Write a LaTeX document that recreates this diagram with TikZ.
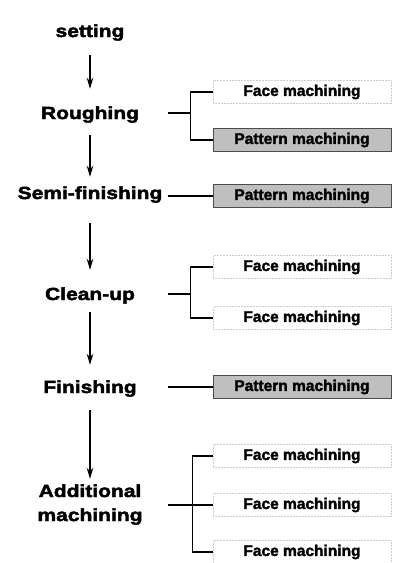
\documentclass[tikz,border=0pt]{standalone}
\usepackage{fontspec}
\usepackage{tikz}
\usetikzlibrary{arrows.meta}
\newfontfamily\stagefont[FakeStretch=1.2,FakeBold=2.5]{Liberation Sans Bold}
\newfontfamily\taskfont[FakeBold=2]{Liberation Sans Bold}

\tikzset{
    stage/.style = {font = \stagefont\fontsize{17.5}{24}\selectfont, align = center,
        minimum width = 155pt, inner sep = 0pt, text height = 12pt, text depth = 4pt},
    task/.style = {font = \taskfont\fontsize{15.5}{17}\selectfont, minimum width = 178pt,
        minimum height = 23pt, inner sep = 0pt},
    face/.style = {task, draw = black!20, densely dotted, line width = 0.5pt},
    pattern/.style = {task, draw = black!70, fill = black!25, line width = 0.5pt},
    flow/.style = {line width = 1.8pt, -{Stealth[length = 11pt, width = 6.5pt]}},
    link/.style = {line width = 1.5pt}
}

\begin{document}
\begin{tikzpicture}[x = 1pt, y = -1pt]
    \useasboundingbox (0, 0) rectangle (393, 563);

    % process stages
    \node [stage] (setting) at (90, 33) {setting};
    \node [stage] (rough) at (90, 115) {Roughing};
    \node [stage] (semi) at (90, 195) {Semi-finishing};
    \node [stage] (clean) at (90, 296) {Clean-up};
    \node [stage] (finish) at (90, 389) {Finishing};
    \node [stage, text height = 36pt] (extra) at (90, 505) {Additional\\machining};

    \foreach \a/\b/\s/\t in {setting/rough/14/18, rough/semi/12/10, semi/clean/20/18,
                             clean/finish/8/16, finish/extra/13/6} {
        \draw [flow, shorten <= \s pt, shorten >= \t pt] (\a) -- (\b);
    }

    % machining operations
    \node [face] (rface) at (302, 92) {Face machining};
    \node [pattern] (rpat) at (302, 140) {Pattern machining};
    \node [pattern] (spat) at (302, 196) {Pattern machining};
    \node [face] (cface1) at (302, 267) {Face machining};
    \node [face] (cface2) at (302, 318) {Face machining};
    \node [pattern] (fpat) at (302, 387) {Pattern machining};
    \node [face] (aface1) at (302, 456) {Face machining};
    \node [face] (aface2) at (302, 505) {Face machining};
    \node [face] (aface3) at (302, 552) {Face machining};

    % links
    \draw [link] (rough.east |- 0, 113) -- ++(23, 0) coordinate (jr) |- (rface.west);
    \draw [link] (jr) |- (rpat.west);
    \draw [link] (semi.east |- spat.west) -- (spat.west);
    \draw [link] (clean.east |- 0, 294) -- ++(23, 0) coordinate (jc) |- (cface1.west);
    \draw [link] (jc) |- (cface2.west);
    \draw [link] (finish.east |- fpat.west) -- (fpat.west);
    \draw [link] (extra.east) -- ++(25, 0) coordinate (ja) |- (aface1.west);
    \draw [link] (ja) -- (aface2.west);
    \draw [link] (ja) |- (aface3.west);
\end{tikzpicture}
\end{document}
